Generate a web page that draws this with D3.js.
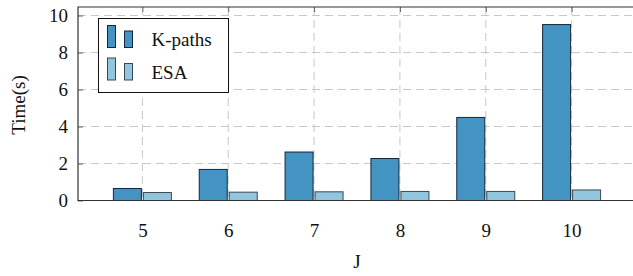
<!DOCTYPE html>
<html>
<head>
<meta charset="utf-8">
<script src="https://cdn.jsdelivr.net/npm/d3@7"></script>
<style>
  body { margin: 0; background: #fff; }
  svg text { fill: #111; }
</style>
</head>
<body>
<svg id="chart" width="633" height="276"></svg>
<script>
var categories = [5, 6, 7, 8, 9, 10],
    kpaths = [0.65, 1.68, 2.62, 2.27, 4.49, 9.51],
    esa = [0.43, 0.45, 0.47, 0.49, 0.49, 0.57],
    yTicks = [0, 2, 4, 6, 8, 10],
    seriesNames = ["K-paths", "ESA"];

var svg = d3.select("#chart"),
    LEFT = 78,
    RIGHT = 636,
    TOP = 7,
    BOTTOM = 200.5,
    BAR_W = 28,
    SHIFT = 15,
    FS = 19,
    FONT = "'Liberation Serif', 'DejaVu Serif', serif",
    colors = ["#4393c3", "#92c5de"],
    strokes = ["#13273a", "#3b4a52"];

var xScale = d3.scaleLinear().domain([4.25, 10.75]).range([LEFT, RIGHT]),
    yScale = d3.scaleLinear().domain([0, 10.46]).range([BOTTOM, TOP]);

// grid
var grid = svg.append("g")
    .attr("stroke", "#c8c8c8")
    .attr("stroke-width", 1)
    .attr("stroke-dasharray", "8,5");

grid.selectAll(".vg").data(categories).enter().append("line")
    .attr("x1", function(d) { return xScale(d); })
    .attr("x2", function(d) { return xScale(d); })
    .attr("y1", TOP)
    .attr("y2", BOTTOM);

grid.selectAll(".hg").data(yTicks.slice(1)).enter().append("line")
    .attr("x1", LEFT)
    .attr("x2", RIGHT)
    .attr("y1", function(d) { return yScale(d); })
    .attr("y2", function(d) { return yScale(d); });

// axes (text + inward ticks)
var yAxis = d3.axisLeft(yScale).tickValues(yTicks).tickSize(-5).tickPadding(10).tickFormat(d3.format("d"));
var xAxis = d3.axisBottom(xScale).tickValues(categories).tickSize(0).tickPadding(23).tickFormat(d3.format("d"));
var xTop = d3.axisTop(xScale).tickValues(categories).tickSize(-5).tickFormat("");

var gy = svg.append("g").attr("transform", "translate(" + LEFT + ",0)").call(yAxis);
var gx = svg.append("g").attr("transform", "translate(0," + BOTTOM + ")").call(xAxis);
var gt = svg.append("g").attr("transform", "translate(0," + TOP + ")").call(xTop);
[gy, gx, gt].forEach(function(g) {
  g.attr("font-family", FONT).attr("font-size", FS);
  g.select(".domain").remove();
  g.selectAll("line").attr("stroke", "#666");
  g.selectAll("text").attr("fill", "#111");
});

// bars
var series = [kpaths, esa];
series.forEach(function(vals, si) {
  svg.append("g").selectAll("rect").data(vals).enter().append("rect")
      .attr("x", function(d, i) { return xScale(categories[i]) + (si === 0 ? -SHIFT : SHIFT) - BAR_W / 2; })
      .attr("y", function(d) { return yScale(d); })
      .attr("width", BAR_W)
      .attr("height", function(d) { return BOTTOM - yScale(d); })
      .attr("fill", colors[si])
      .attr("stroke", strokes[si])
      .attr("stroke-width", 1);
});

// frame
svg.append("path")
    .attr("d", "M" + RIGHT + "," + TOP + "H" + LEFT + "V" + BOTTOM + "H" + RIGHT)
    .attr("fill", "none")
    .attr("stroke", "#333")
    .attr("stroke-width", 1.2);

// axis labels
svg.append("text")
    .attr("x", (LEFT + RIGHT) / 2)
    .attr("y", 268)
    .attr("text-anchor", "middle")
    .attr("font-family", FONT)
    .attr("font-size", FS)
    .text("J");

svg.append("text")
    .attr("transform", "translate(25,105) rotate(-90)")
    .attr("text-anchor", "middle")
    .attr("font-family", FONT)
    .attr("font-size", FS)
    .text("Time(s)");

// legend
var legend = svg.append("g");
legend.append("rect")
    .attr("x", 98.5).attr("y", 18.5)
    .attr("width", 130).attr("height", 74)
    .attr("fill", "#fff")
    .attr("stroke", "#111")
    .attr("stroke-width", 1);

seriesNames.forEach(function(name, i) {
  var y0 = 47.5 + i * 32.5;
  legend.append("rect")
      .attr("x", 107.5).attr("y", y0 - 22)
      .attr("width", 8).attr("height", 22)
      .attr("fill", colors[i]).attr("stroke", strokes[i]);
  legend.append("rect")
      .attr("x", 124.5).attr("y", y0 - 16.5)
      .attr("width", 8).attr("height", 16.5)
      .attr("fill", colors[i]).attr("stroke", strokes[i]);
  legend.append("text")
      .attr("x", 151.5).attr("y", y0 - 1.5)
      .attr("font-family", FONT)
      .attr("font-size", FS)
      .text(name);
});
</script>
</body>
</html>
